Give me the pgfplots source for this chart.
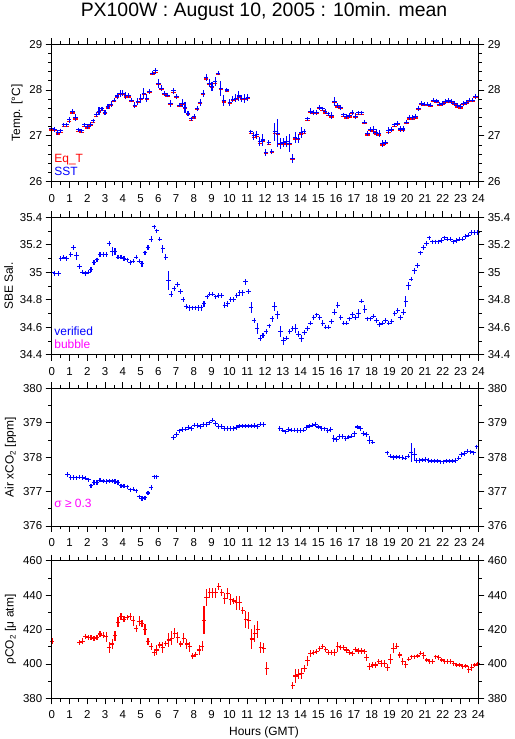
\documentclass[border=0pt]{standalone}
\usepackage{pgfplots}
\pgfplotsset{compat=1.18}
\usepackage{pgfplotstable}
\usepackage{fontspec}
\setmainfont{Liberation Sans}
\definecolor{pblue}{RGB}{0,0,255}
\definecolor{pred}{RGB}{255,0,0}
\definecolor{pmag}{RGB}{255,0,255}
\newcommand\tf{\fontsize{11.5}{13}\selectfont}
\newcommand\lf{\fontsize{12}{14}\selectfont}

\pgfplotstableread{
h sst eq e
0.00 27.16 27.13 0.04
0.17 27.14 27.11 0.03
0.34 27.07 27.04 0.05
0.50 27.11 27.08 0.03
0.68 27.24 27.21 0.03
0.84 27.24 27.21 0.03
0.99 27.35 27.32 0.06
1.16 27.53 27.50 0.06
1.33 27.40 27.37 0.08
1.50 27.13 27.10 0.04
1.67 27.11 27.08 0.04
1.84 27.24 27.21 0.03
2.01 27.20 27.17 0.04
2.18 27.25 27.22 0.03
2.34 27.33 27.30 0.03
2.50 27.46 27.43 0.05
2.66 27.54 27.51 0.08
2.83 27.59 27.56 0.05
3.00 27.51 27.48 0.06
3.17 27.64 27.61 0.05
3.34 27.69 27.66 0.06
3.51 27.78 27.75 0.05
3.68 27.87 27.84 0.07
3.85 27.93 27.90 0.08
4.00 27.93 27.90 0.06
4.17 27.88 27.85 0.08
4.33 27.88 27.85 0.05
4.50 27.78 27.75 0.05
4.67 27.67 27.64 0.06
4.84 27.75 27.72 0.08
5.01 27.82 27.79 0.10
5.18 27.93 27.90 0.12
5.35 27.82 27.79 0.09
5.51 27.97 27.94 0.05
5.68 28.37 28.34 0.04
5.85 28.42 28.39 0.06
6.00 28.15 28.12 0.10
6.17 28.04 28.01 0.06
6.34 27.93 27.90 0.05
6.51 27.89 27.86 0.05
6.68 27.71 27.68 0.08
6.85 27.98 27.95 0.06
7.02 27.86 27.83 0.05
7.19 27.67 27.64 0.05
7.35 27.71 27.68 0.09
7.50 27.62 27.59 0.12
7.67 27.49 27.46 0.06
7.84 27.37 27.34 0.05
8.01 27.42 27.39 0.05
8.18 27.60 27.57 0.06
8.35 27.73 27.70 0.07
8.52 27.93 27.90 0.08
8.69 28.27 28.24 0.07
8.86 28.15 28.12 0.09
9.02 28.08 28.05 0.10
9.19 28.18 28.15 0.10
9.36 28.37 28.34 0.04
9.51 28.04 28.01 0.16
9.68 27.77 27.74 0.12
9.85 28.00 27.97 0.04
10.02 27.73 27.70 0.07
10.19 27.80 27.77 0.07
10.36 27.82 27.79 0.09
10.53 27.87 27.84 0.11
10.69 27.82 27.79 0.08
10.86 27.82 27.79 0.10
11.03 27.84 27.81 0.08
11.20 27.09 27.06 0.04
11.37 27.00 26.97 0.08
11.54 27.02 26.99 0.08
11.71 26.87 26.84 0.10
11.88 26.91 26.88 0.14
12.05 26.64 26.61 0.08
12.22 26.85 26.82 0.05
12.38 26.66 26.63 0.06
12.55 27.09 27.06 0.20
12.72 27.06 27.03 0.30
12.88 26.84 26.81 0.12
13.03 26.85 26.82 0.10
13.20 26.87 26.84 0.12
13.37 26.84 26.81 0.20
13.54 26.51 26.48 0.10
13.70 26.96 26.93 0.12
13.87 26.95 26.92 0.10
14.04 27.07 27.04 0.12
14.21 27.09 27.06 0.06
14.38 27.37 27.34 0.04
14.55 27.54 27.51 0.06
14.72 27.51 27.48 0.04
14.89 27.51 27.48 0.04
15.06 27.62 27.59 0.05
15.23 27.59 27.56 0.05
15.39 27.53 27.50 0.04
15.56 27.48 27.45 0.05
15.73 27.44 27.41 0.08
15.90 27.75 27.72 0.10
16.07 27.66 27.63 0.04
16.24 27.62 27.59 0.04
16.41 27.46 27.43 0.04
16.58 27.42 27.39 0.04
16.75 27.44 27.41 0.04
16.91 27.51 27.48 0.04
17.08 27.43 27.40 0.06
17.25 27.50 27.47 0.04
17.42 27.50 27.47 0.04
17.59 27.30 27.27 0.05
17.76 27.05 27.02 0.05
17.93 27.14 27.11 0.06
18.10 27.13 27.10 0.08
18.26 27.07 27.04 0.08
18.43 27.05 27.02 0.07
18.60 26.83 26.80 0.08
18.77 26.86 26.83 0.05
18.94 27.11 27.08 0.08
19.11 27.14 27.11 0.05
19.28 27.24 27.21 0.04
19.45 27.27 27.24 0.04
19.62 27.15 27.12 0.07
19.78 27.15 27.12 0.06
19.95 27.30 27.27 0.04
20.12 27.40 27.37 0.03
20.29 27.40 27.37 0.04
20.46 27.42 27.39 0.04
20.63 27.60 27.57 0.04
20.80 27.71 27.68 0.03
20.97 27.69 27.66 0.03
21.14 27.69 27.66 0.03
21.30 27.67 27.64 0.04
21.47 27.78 27.75 0.04
21.64 27.76 27.73 0.03
21.81 27.69 27.66 0.03
21.98 27.71 27.68 0.03
22.15 27.75 27.72 0.03
22.32 27.77 27.74 0.03
22.49 27.75 27.72 0.03
22.66 27.71 27.68 0.03
22.82 27.66 27.63 0.03
22.99 27.64 27.61 0.03
23.16 27.71 27.68 0.04
23.33 27.73 27.70 0.03
23.50 27.78 27.75 0.03
23.67 27.78 27.75 0.03
23.84 27.86 27.83 0.03
}\temp

\pgfplotstableread{
h s e
0.00 35.00 0.01
0.17 34.99 0.01
0.38 34.99 0.01
0.51 35.10 0.015
0.68 35.11 0.01
0.84 35.10 0.01
1.07 35.13 0.01
1.22 35.18 0.015
1.40 35.12 0.03
1.56 35.04 0.015
1.73 35.00 0.01
1.90 34.99 0.015
2.06 35.00 0.01
2.21 35.02 0.015
2.38 35.07 0.01
2.55 35.09 0.015
2.72 35.13 0.015
2.89 35.13 0.015
3.06 35.13 0.015
3.23 35.21 0.02
3.40 35.15 0.03
3.56 35.15 0.025
3.73 35.11 0.01
3.90 35.11 0.01
4.07 35.10 0.01
4.24 35.09 0.015
4.41 35.07 0.015
4.58 35.08 0.015
4.75 35.11 0.01
4.92 35.08 0.015
5.08 35.06 0.02
5.25 35.14 0.015
5.42 35.18 0.015
5.59 35.24 0.02
5.76 35.33 0.015
5.91 35.30 0.015
6.08 35.24 0.01
6.25 35.17 0.03
6.42 35.11 0.02
6.57 34.94 0.07
6.72 34.84 0.02
6.89 34.88 0.02
7.07 34.91 0.02
7.24 34.86 0.02
7.39 34.80 0.02
7.56 34.75 0.02
7.73 34.74 0.02
7.90 34.74 0.015
8.07 34.74 0.015
8.24 34.74 0.02
8.41 34.74 0.02
8.57 34.77 0.02
8.74 34.82 0.015
8.89 34.84 0.015
9.06 34.84 0.015
9.23 34.82 0.015
9.40 34.83 0.01
9.57 34.83 0.015
9.74 34.76 0.02
9.91 34.77 0.02
10.08 34.80 0.015
10.24 34.80 0.02
10.41 34.83 0.02
10.58 34.85 0.02
10.75 34.85 0.02
10.90 34.93 0.02
11.07 34.86 0.02
11.22 34.74 0.04
11.39 34.65 0.02
11.56 34.59 0.04
11.73 34.52 0.02
11.89 34.54 0.015
12.06 34.57 0.015
12.23 34.61 0.015
12.40 34.66 0.02
12.54 34.75 0.03
12.71 34.69 0.03
12.88 34.57 0.04
13.05 34.50 0.03
13.22 34.52 0.015
13.39 34.57 0.02
13.56 34.59 0.02
13.72 34.59 0.03
13.89 34.55 0.02
14.06 34.52 0.025
14.23 34.56 0.02
14.40 34.59 0.015
14.57 34.63 0.015
14.74 34.67 0.01
14.91 34.69 0.01
15.08 34.67 0.01
15.25 34.63 0.02
15.42 34.60 0.01
15.58 34.60 0.01
15.75 34.64 0.015
15.92 34.71 0.02
16.09 34.76 0.02
16.26 34.67 0.02
16.43 34.63 0.01
16.59 34.63 0.01
16.76 34.66 0.015
16.93 34.69 0.02
17.10 34.67 0.01
17.27 34.70 0.03
17.44 34.79 0.01
17.61 34.73 0.03
17.77 34.66 0.01
17.94 34.66 0.01
18.11 34.68 0.01
18.28 34.65 0.01
18.45 34.62 0.01
18.62 34.63 0.015
18.79 34.65 0.015
18.96 34.63 0.01
19.13 34.64 0.01
19.30 34.70 0.01
19.47 34.72 0.01
19.63 34.67 0.015
19.80 34.71 0.02
19.92 34.79 0.04
20.07 34.90 0.03
20.23 34.95 0.015
20.40 35.01 0.02
20.57 35.05 0.02
20.74 35.14 0.015
20.91 35.18 0.015
21.08 35.21 0.01
21.24 35.25 0.01
21.41 35.22 0.01
21.58 35.22 0.005
21.75 35.22 0.005
21.92 35.23 0.01
22.09 35.25 0.005
22.26 35.24 0.005
22.43 35.24 0.005
22.60 35.22 0.005
22.77 35.23 0.005
22.93 35.24 0.005
23.10 35.24 0.005
23.27 35.26 0.005
23.44 35.27 0.01
23.61 35.29 0.005
23.78 35.29 0.005
23.95 35.29 0.005
}\sal

\pgfplotstableread{
h c e
0.90 377.50 0.03
1.07 377.41 0.02
1.24 377.41 0.02
1.41 377.40 0.02
1.58 377.42 0.02
1.75 377.41 0.02
1.91 377.39 0.02
2.06 377.34 0.04
2.21 377.17 0.06
2.38 377.26 0.04
2.55 377.27 0.02
2.72 377.33 0.02
2.89 377.31 0.02
3.06 377.29 0.02
3.23 377.31 0.02
3.40 377.31 0.02
3.56 377.29 0.02
3.73 377.27 0.03
3.90 377.17 0.04
4.07 377.16 0.03
4.24 377.14 0.03
4.41 377.05 0.03
4.58 377.07 0.02
4.75 377.02 0.03
4.92 376.85 0.03
5.08 376.80 0.02
5.25 376.82 0.02
5.42 376.96 0.05
5.59 377.12 0.04
5.76 377.43 0.06
5.91 377.43 0.04
6.85 378.58 0.04
7.02 378.66 0.04
7.19 378.77 0.03
7.35 378.81 0.02
7.52 378.82 0.02
7.69 378.86 0.02
7.86 378.84 0.03
8.03 378.93 0.04
8.20 378.92 0.02
8.37 378.89 0.02
8.54 378.95 0.05
8.71 378.95 0.05
8.88 379.00 0.04
9.04 379.08 0.04
9.21 378.98 0.06
9.38 378.89 0.05
9.55 378.89 0.03
9.72 378.84 0.02
9.89 378.84 0.02
10.06 378.84 0.02
10.23 378.84 0.02
10.39 378.87 0.02
10.56 378.91 0.02
10.73 378.91 0.02
10.90 378.91 0.02
11.07 378.91 0.02
11.24 378.91 0.02
11.41 378.92 0.02
11.58 378.89 0.02
11.75 378.96 0.02
11.91 378.95 0.03
12.84 378.84 0.03
13.00 378.79 0.02
13.16 378.74 0.02
13.33 378.81 0.04
13.50 378.79 0.03
13.67 378.79 0.02
13.84 378.78 0.02
14.01 378.78 0.02
14.17 378.79 0.02
14.34 378.86 0.04
14.51 378.91 0.04
14.68 378.93 0.03
14.85 378.95 0.04
15.02 378.88 0.04
15.19 378.84 0.02
15.36 378.83 0.02
15.53 378.78 0.02
15.70 378.81 0.04
15.87 378.55 0.10
16.03 378.52 0.02
16.20 378.60 0.03
16.37 378.60 0.02
16.54 378.54 0.03
16.71 378.59 0.03
16.88 378.61 0.04
17.04 378.68 0.08
17.21 378.88 0.04
17.38 378.84 0.04
17.55 378.69 0.06
17.72 378.66 0.04
17.89 378.50 0.12
18.06 378.44 0.02
18.88 378.13 0.04
19.05 378.03 0.05
19.22 377.99 0.02
19.39 378.01 0.02
19.56 378.00 0.02
19.72 377.99 0.02
19.89 377.97 0.02
20.06 378.03 0.05
20.23 378.13 0.28
20.40 378.08 0.20
20.53 377.91 0.03
20.70 377.91 0.02
20.87 377.92 0.02
21.04 377.94 0.02
21.21 377.91 0.02
21.37 377.89 0.02
21.54 377.89 0.02
21.71 377.89 0.02
21.88 377.87 0.03
22.05 377.87 0.02
22.22 377.89 0.02
22.39 377.89 0.02
22.56 377.89 0.02
22.73 377.91 0.02
22.90 377.97 0.03
23.06 378.08 0.04
23.23 378.11 0.03
23.40 378.18 0.04
23.57 378.16 0.03
23.74 378.13 0.04
23.91 378.30 0.06
}\aco

\pgfplotstableread{
h p e
0.02 413.3 1.5
1.56 412.3 1.5
1.73 413.3 1.5
1.90 416.2 1.5
2.06 415.4 1
2.21 415.4 1
2.38 414.9 1
2.55 415.4 1.5
2.72 417.4 1.5
2.89 416.8 1.5
3.06 415.8 3
3.23 409.6 3
3.40 411.6 3
3.56 416.4 3
3.73 424.2 3
3.90 427.8 2
4.07 426.1 1.5
4.24 427.1 1.5
4.41 427.5 2
4.58 425.1 3
4.75 420.7 2
4.92 424.9 3
5.08 423.6 2
5.25 420.1 3
5.42 413.3 2
5.59 410.0 2
5.76 406.5 2
5.91 408.1 3
6.08 411.0 1.5
6.25 409.6 3
6.42 412.0 1.5
6.59 413.9 4
6.76 414.9 4
6.93 417.8 3
7.10 415.4 3
7.27 411.6 1.5
7.43 414.9 3
7.60 411.6 3
7.77 410.0 3
7.94 404.6 1.5
8.11 405.6 1.5
8.29 408.1 3
8.46 410.4 3
8.57 425.5 8
8.72 438.7 5
8.89 441.4 3
9.06 441.4 3
9.23 441.4 3
9.40 444.9 2
9.57 441.4 2
9.74 438.1 3
9.91 441.0 3
10.08 437.5 3
10.24 436.6 2
10.41 435.6 4
10.58 435.6 4
10.75 431.3 2
10.92 425.9 5
11.09 425.1 5
11.26 414.5 6
11.43 417.8 5
11.60 420.1 5
11.76 409.6 3
11.93 409.1 3
12.10 397.4 4
13.56 387.4 2
13.72 393.0 4
13.89 394.1 3
14.06 394.5 3
14.23 397.4 2
14.40 401.9 3
14.57 406.2 2
14.74 406.7 1.5
14.91 407.1 1.5
15.08 409.1 1.5
15.25 410.0 1.5
15.42 408.5 1.5
15.58 406.7 1.5
15.75 406.7 1.5
15.92 406.5 2
16.09 410.0 3
16.26 409.6 1.5
16.43 409.6 1.5
16.59 408.1 1.5
16.76 406.7 1.5
16.93 406.2 1.5
17.10 408.5 1.5
17.27 407.5 2
17.44 407.5 1.5
17.61 407.1 1.5
17.72 403.6 2
17.89 398.4 2
18.06 399.4 2
18.23 399.4 2
18.40 401.3 1.5
18.56 400.3 2
18.73 400.0 2
18.90 398.0 2
19.07 402.7 3
19.24 409.1 3
19.41 410.4 2
19.58 405.2 2
19.75 401.3 2
19.92 399.8 2
20.09 402.7 1
20.26 404.2 1
20.43 404.2 1
20.60 404.6 1
20.77 406.2 1
20.93 404.8 2
21.10 402.3 1
21.27 401.3 1
21.44 401.3 1
21.61 404.2 1
21.78 403.8 1
21.95 402.3 1
22.12 401.3 1
22.29 401.3 1
22.46 401.3 1
22.62 400.3 1
22.79 399.4 1
22.96 399.4 1
23.13 398.4 1
23.30 398.8 1
23.47 397.0 2
23.64 398.0 2
23.81 399.4 1
23.98 400.0 1
}\pco

\pgfplotsset{
  panel/.style={
    scale only axis, width=426.6bp, height=137.5bp, anchor=south west,
    xmin=0, xmax=24, xtick={0,1,...,24}, minor x tick num=1,
    tick align=outside, major tick length=6bp, minor tick length=3.5bp,
    axis line style={line width=0.8bp},
    tick style={black, line width=0.8bp},
    ticklabel style={font=\tf},
    xticklabel style={yshift=-3bp},
    /pgf/number format/assume math mode=true,
    ylabel style={font=\lf},
  },
  panelR/.style={panel, hide x axis, yticklabel pos=right},
  datab/.style={pblue, line width=1.1bp, only marks, mark=+, mark size=2.2bp,
    error bars/.cd, y dir=both, y explicit, error mark=none,
    error bar style={line width=1.1bp, pblue}},
  datar/.style={pred, line width=1.1bp, only marks, mark=+, mark size=2.2bp,
    error bars/.cd, y dir=both, y explicit, error mark=none,
    error bar style={line width=1.1bp, pred}},
}

\begin{document}
\begin{tikzpicture}
\useasboundingbox (0,0) rectangle (515bp,739bp);
\node[anchor=base, font=\fontsize{19.5}{22}\selectfont] at (264bp,722.3bp) {PX100W : August 10, 2005 : 10min. mean};

% Panel 1: temperature
\begin{axis}[panel, at={(51.7bp,557.3bp)}, ymin=26, ymax=29, ytick={26,27,28,29}, minor y tick num=4, ylabel={Temp. [°C]}]
\addplot[pred, only marks, mark=-, mark size=2.2bp, line width=1.2bp] table[x=h,y=eq]{\temp};
\addplot[datab] table[x=h,y=sst,y error=e]{\temp};
\node[anchor=base west, font=\lf, text=pred, inner sep=0pt, xshift=2.5bp, yshift=19bp] at (rel axis cs:0,0) {Eq\_T};
\node[anchor=base west, font=\lf, text=pblue, inner sep=0pt, xshift=2.5bp, yshift=5.7bp] at (rel axis cs:0,0) {SST};
\end{axis}
\begin{axis}[panelR, at={(51.7bp,557.3bp)}, ymin=26, ymax=29, ytick={26,27,28,29}, minor y tick num=4]
\end{axis}

% Panel 2: salinity
\begin{axis}[panel, at={(51.7bp,384.3bp)}, ymin=34.4, ymax=35.4, ytick={34.4,34.6,34.8,35,35.2,35.4}, minor y tick num=1, ylabel={SBE Sal.}]
\addplot[datab] table[x=h,y=s,y error=e]{\sal};
\node[anchor=base west, font=\lf, text=pblue, inner sep=0pt, xshift=2.5bp, yshift=18.7bp] at (rel axis cs:0,0) {verified};
\node[anchor=base west, font=\lf, text=pmag, inner sep=0pt, xshift=2.5bp, yshift=6.4bp] at (rel axis cs:0,0) {bubble};
\end{axis}
\begin{axis}[panelR, at={(51.7bp,384.3bp)}, ymin=34.4, ymax=35.4, ytick={34.4,34.6,34.8,35,35.2,35.4}, minor y tick num=1]
\end{axis}

% Panel 3: air xCO2
\begin{axis}[panel, at={(51.7bp,213bp)}, ymin=376, ymax=380, ytick={376,377,378,379,380}, minor y tick num=1, ylabel={Air xCO\textsubscript{2} [ppm]}]
\addplot[datab] table[x=h,y=c,y error=e]{\aco};
\node[anchor=base west, font=\lf, text=pmag, inner sep=0pt, xshift=2.5bp, yshift=18.3bp] at (rel axis cs:0,0) {σ ≥ 0.3};
\end{axis}
\begin{axis}[panelR, at={(51.7bp,213bp)}, ymin=376, ymax=380, ytick={376,377,378,379,380}, minor y tick num=1]
\end{axis}

% Panel 4: pCO2
\begin{axis}[panel, at={(51.7bp,40.7bp)}, ymin=380, ymax=460, ytick={380,400,420,440,460}, minor y tick num=1, ylabel={ρCO\textsubscript{2} [μ atm]}, clip=false]
\addplot[datar] table[x=h,y=p,y error=e]{\pco};
\end{axis}
\begin{axis}[panelR, at={(51.7bp,40.7bp)}, ymin=380, ymax=460, ytick={380,400,420,440,460}, minor y tick num=1]
\end{axis}

\node[anchor=base, font=\lf] at (264bp,4bp) {Hours (GMT)};
\end{tikzpicture}
\end{document}
